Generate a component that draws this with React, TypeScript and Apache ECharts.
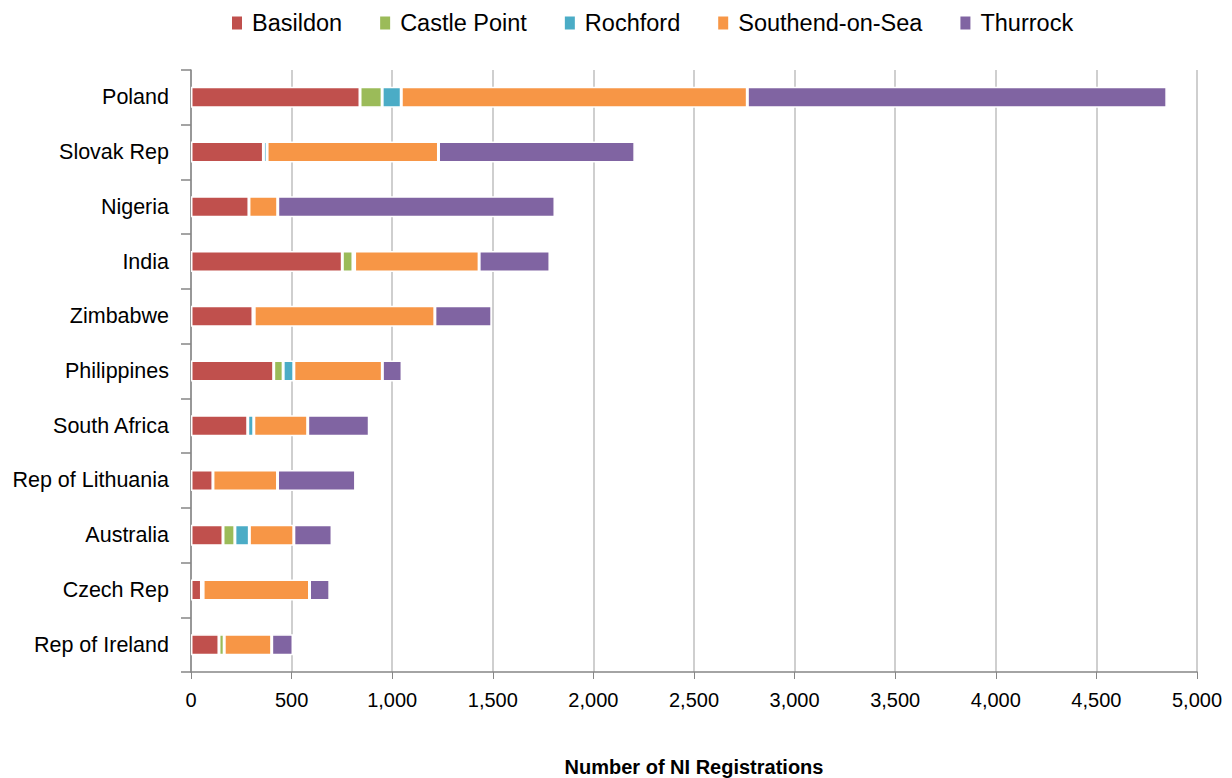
import React, { useEffect, useRef } from "react";
import * as echarts from "echarts";

const countries = [
  "Poland",
  "Slovak Rep",
  "Nigeria",
  "India",
  "Zimbabwe",
  "Philippines",
  "South Africa",
  "Rep of Lithuania",
  "Australia",
  "Czech Rep",
  "Rep of Ireland",
];

const basildon = [840, 360, 288, 752, 308, 411, 282, 109, 159, 52, 139];
const castlePoint = [110, 0, 0, 53, 6, 47, 0, 0, 59, 8, 26];
const rochford = [95, 18, 0, 8, 0, 53, 30, 0, 72, 0, 0];
const southend = [1720, 852, 143, 619, 898, 440, 268, 321, 221, 529, 236];
const thurrock = [2085, 976, 1378, 352, 283, 98, 306, 388, 190, 101, 106];

const seriesNames = ["Basildon", "Castle Point", "Rochford", "Southend-on-Sea", "Thurrock"];
const seriesColors = ["#C0504D", "#9BBB59", "#4BACC6", "#F79646", "#8064A2"];
const seriesValues = [basildon, castlePoint, rochford, southend, thurrock];

const xMin = 0;
const xMax = 5000;
const xInterval = 500;

const FONT = "'Liberation Sans', Arial, sans-serif";

export default function App() {
  const ref = useRef<HTMLDivElement>(null);

  useEffect(() => {
    if (!ref.current) return;
    const chart = echarts.init(ref.current, undefined, { renderer: "svg" });
    chart.setOption({
      animation: false,
      backgroundColor: "#ffffff",
      textStyle: { fontFamily: FONT },
      legend: {
        top: 6,
        left: 225,
        icon: "rect",
        itemWidth: 12,
        itemHeight: 15,
        itemGap: 36,
        textStyle: { fontSize: 23.5, color: "#000", fontFamily: FONT, padding: [0, 0, 0, 4] },
        data: seriesNames,
      },
      grid: {
        left: 191,
        right: 35,
        top: 70,
        bottom: 106,
        containLabel: false,
        outerBoundsMode: "none",
      },
      xAxis: {
        type: "value",
        min: xMin,
        max: xMax,
        interval: xInterval,
        name: "Number of NI Registrations",
        nameLocation: "middle",
        nameGap: 85,
        nameTextStyle: { fontSize: 20, fontWeight: "bold", color: "#000", fontFamily: FONT },
        axisLine: { show: true, lineStyle: { color: "#868686", width: 1.5 } },
        axisTick: { show: true, length: 7, lineStyle: { color: "#868686", width: 1 } },
        axisLabel: {
          fontSize: 20,
          color: "#000",
          margin: 18,
          fontFamily: FONT,
          formatter: (v: number) => v.toLocaleString("en-US"),
        },
        splitLine: { show: true, lineStyle: { color: "#BFBFBF", width: 1.5 } },
      },
      yAxis: {
        type: "category",
        inverse: true,
        data: countries,
        axisLine: { show: true, lineStyle: { color: "#868686", width: 1.5 } },
        axisTick: { show: true, length: 10, lineStyle: { color: "#868686", width: 1.5 } },
        axisLabel: { fontSize: 21.5, color: "#000", margin: 22, fontFamily: FONT },
        splitLine: { show: false },
      },
      series: seriesNames.map((name, i) => ({
        name,
        type: "bar",
        stack: "total",
        barWidth: 21,
        data: seriesValues[i],
        itemStyle: { color: seriesColors[i], borderColor: "#ffffff", borderWidth: 1.5 },
      })),
    });
    return () => chart.dispose();
  }, []);

  return (
    <div
      ref={ref}
      style={{ position: "fixed", left: 0, top: 0, width: 1232, height: 778, background: "#fff" }}
    />
  );
}
